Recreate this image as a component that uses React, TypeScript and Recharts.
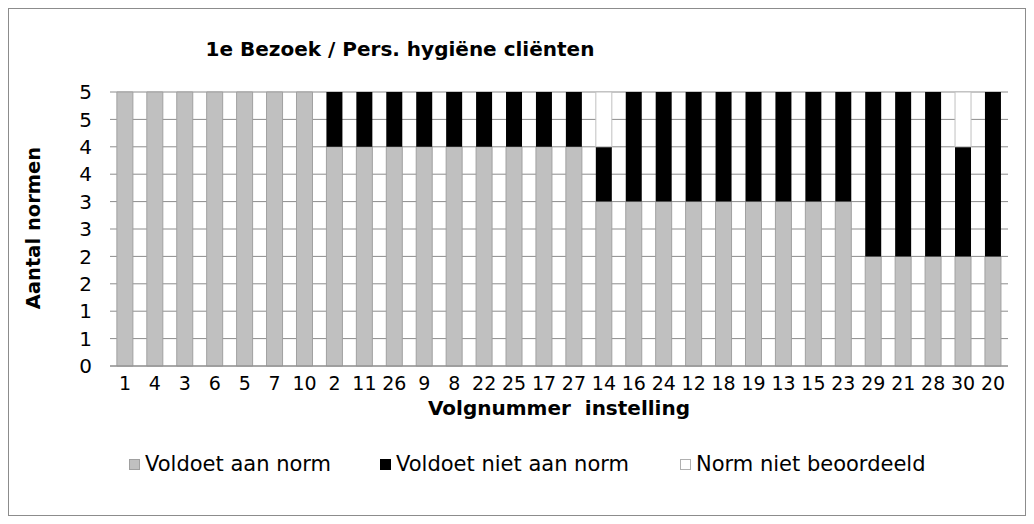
import { Bar, BarChart, CartesianGrid, Legend, XAxis, YAxis } from "recharts"

// volgnummers van de instellingen, in volgorde van de grafiek
const instellingen = [
  "1", "4", "3", "6", "5", "7", "10", "2", "11", "26", "9", "8", "22", "25", "17",
  "27", "14", "16", "24", "12", "18", "19", "13", "15", "23", "29", "21", "28", "30", "20",
]
const voldoet = [5, 5, 5, 5, 5, 5, 5, 4, 4, 4, 4, 4, 4, 4, 4, 4, 3, 3, 3, 3, 3, 3, 3, 3, 3, 2, 2, 2, 2, 2]
const voldoetNiet = [0, 0, 0, 0, 0, 0, 0, 1, 1, 1, 1, 1, 1, 1, 1, 1, 1, 2, 2, 2, 2, 2, 2, 2, 2, 3, 3, 3, 2, 3]
const nietBeoordeeld = [0, 0, 0, 0, 0, 0, 0, 0, 0, 0, 0, 0, 0, 0, 0, 0, 1, 0, 0, 0, 0, 0, 0, 0, 0, 0, 0, 0, 1, 0]
const yTicks = [0, 0.5, 1, 1.5, 2, 2.5, 3, 3.5, 4, 4.5, 5]

const data = instellingen.map((name, i) => ({
  name,
  voldoet: voldoet[i],
  voldoetNiet: voldoetNiet[i],
  nietBeoordeeld: nietBeoordeeld[i],
}))

const font = "Verdana, 'DejaVu Sans', sans-serif"

const legendItems = [
  { label: "Voldoet aan norm", fill: "#c0c0c0", stroke: "#a0a0a0", left: 120 },
  { label: "Voldoet niet aan norm", fill: "#000000", stroke: "#000000", left: 371 },
  { label: "Norm niet beoordeeld", fill: "#ffffff", stroke: "#b0b0b0", left: 671 },
]

function LegendContent() {
  return (
    <div style={{ position: "relative", height: 26, fontFamily: font, fontSize: 21 }}>
      {legendItems.map((item) => (
        <div key={item.label} style={{ position: "absolute", left: item.left, top: 0, display: "flex", alignItems: "center" }}>
          <span
            style={{
              display: "inline-block",
              width: 9,
              height: 9,
              background: item.fill,
              border: `1px solid ${item.stroke}`,
              marginRight: 5,
            }}
          />
          <span>{item.label}</span>
        </div>
      ))}
    </div>
  )
}

export default function App() {
  return (
    <div style={{ width: 1016, height: 506, border: "1px solid #8c8c8c", background: "#fff" }}>
      <BarChart
        width={1016}
        height={506}
        data={data}
        barCategoryGap="23%"
        margin={{ top: 83, right: 17, bottom: 89, left: 0 }}
      >
        <CartesianGrid vertical={false} stroke="#8c8c8c" />
        <XAxis
          dataKey="name"
          interval={0}
          tickLine={false}
          tickSize={0}
          tickMargin={11}
          height={60}
          stroke="#8c8c8c"
          tick={{ fill: "#000", fontSize: 19, fontFamily: font }}
        />
        <YAxis
          domain={[0, 5]}
          ticks={yTicks}
          interval={0}
          tickFormatter={(v) => String(Math.round(v))}
          width={101}
          tickLine={false}
          axisLine={false}
          tickSize={0}
          tickMargin={18}
          tick={{ fill: "#000", fontSize: 20, fontFamily: font }}
        />
        <Legend layout="horizontal" verticalAlign="middle" align="center" wrapperStyle={{ top: 443, left: 0, width: 1016 }} content={LegendContent} />
        <Bar dataKey="voldoet" stackId="a" fill="#c0c0c0" stroke="#a0a0a0" isAnimationActive={false} />
        <Bar dataKey="voldoetNiet" stackId="a" fill="#000000" isAnimationActive={false} />
        <Bar dataKey="nietBeoordeeld" stackId="a" fill="#ffffff" stroke="#c0c0c0" isAnimationActive={false} />
        <text x={391} y={47} textAnchor="middle" fontFamily={font} fontSize={20} fontWeight="bold">
          1e Bezoek / Pers. hygiëne cliënten
        </text>
        <text
          x={24}
          y={219}
          textAnchor="middle"
          dominantBaseline="central"
          transform="rotate(-90 24 219)"
          fontFamily={font}
          fontSize={19.5}
          fontWeight="bold"
        >
          Aantal normen
        </text>
        <text x={550} y={406} textAnchor="middle" fontFamily={font} fontSize={20} fontWeight="bold" style={{ whiteSpace: "pre" }}>
          Volgnummer  instelling
        </text>
      </BarChart>
    </div>
  )
}
